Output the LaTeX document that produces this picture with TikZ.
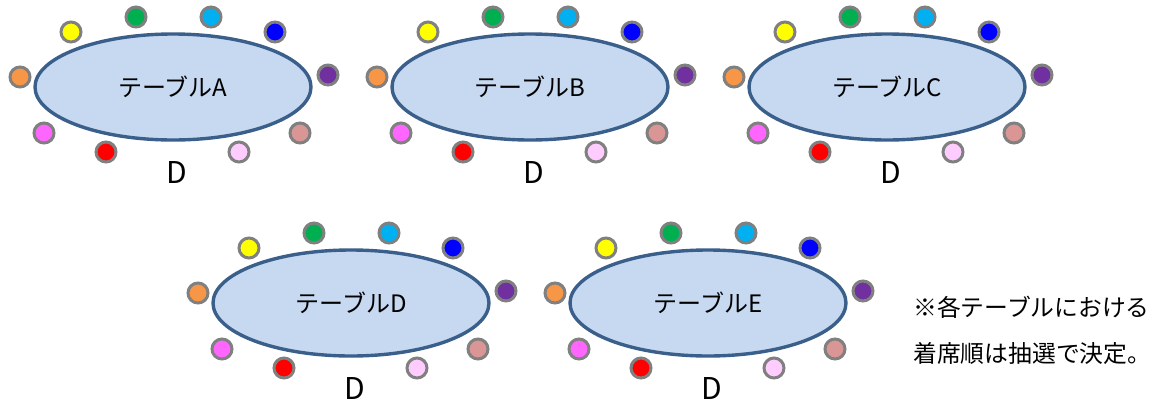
\documentclass[tikz,border=0pt]{standalone}
\usepackage{fontspec}
\setmainfont{Noto Sans CJK JP}
\definecolor{tfill}{HTML}{C6D9F1}
\definecolor{tline}{HTML}{3A5F8B}
\definecolor{sgray}{HTML}{808080}
\definecolor{c1}{HTML}{F79646}
\definecolor{c2}{HTML}{FFFF00}
\definecolor{c3}{HTML}{00B050}
\definecolor{c4}{HTML}{00B0F0}
\definecolor{c5}{HTML}{0000FF}
\definecolor{c6}{HTML}{7030A0}
\definecolor{c7}{HTML}{D99694}
\definecolor{c8}{HTML}{FFCCFF}
\definecolor{c9}{HTML}{FF0000}
\definecolor{c10}{HTML}{FF66FF}
\tikzset{
  tablebox/.style={ellipse, draw=tline, fill=tfill, line width=3.4pt, minimum width=276pt, minimum height=106pt, inner sep=0pt, font=\fontsize{24}{28}\selectfont},
  seat/.style={circle, draw=sgray, line width=3pt, minimum size=20pt, inner sep=0pt},
  dlabel/.style={font=\fontsize{30}{34}\selectfont, inner sep=0pt},
  note/.style={font=\fontsize{23.8}{28}\selectfont, anchor=west, inner sep=0pt}
}
\usetikzlibrary{shapes.geometric}
\newcommand\mytable[4]{%
  \begin{scope}[shift={(#1,#2)}]
    \node[tablebox] (t#3) at (173,87) {テーブル#4};
    \node[seat, fill=c1] (t#3s1) at (20,77) {};
    \node[seat, fill=c2] (t#3s2) at (71,32) {};
    \node[seat, fill=c3] (t#3s3) at (136,17) {};
    \node[seat, fill=c4] (t#3s4) at (211,17) {};
    \node[seat, fill=c5] (t#3s5) at (275,32) {};
    \node[seat, fill=c6] (t#3s6) at (328,75) {};
    \node[seat, fill=c7] (t#3s7) at (300,133) {};
    \node[seat, fill=c8] (t#3s8) at (239,152) {};
    \node[seat, fill=c9] (t#3s9) at (106,152) {};
    \node[seat, fill=c10] (t#3s10) at (44,133) {};
    \node[dlabel] (t#3d) at (177,172) {D};
  \end{scope}}
\begin{document}
\begin{tikzpicture}[x=1pt,y=-1pt]
\useasboundingbox (0,0) rectangle (1154,405);
\mytable{0}{0}{a}{A}
\mytable{357}{0}{b}{B}
\mytable{714}{0}{c}{C}
\mytable{178}{216}{d}{D}
\mytable{535}{216}{e}{E}
\node[note] (n1) at (913,307) {※各テーブルにおける};
\node[note] (n2) at (913,353) {着席順は抽選で決定。};
\end{tikzpicture}
\end{document}
